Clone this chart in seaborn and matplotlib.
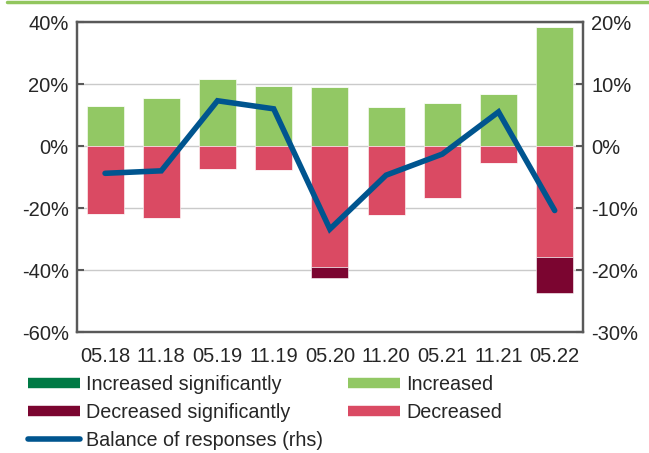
import numpy as np
import pandas as pd
import matplotlib
matplotlib.use("Agg")
import matplotlib.pyplot as plt
import seaborn as sns
from matplotlib.lines import Line2D

# survey rounds
periods = ["05.18", "11.18", "05.19", "11.19", "05.20", "11.20", "05.21", "11.21", "05.22"]
# shares of responses, percent (lhs)
inc_sig = [0, 0, 0, 0, 0, 0, 0, 0, 0]
inc = [13.0, 15.4, 21.5, 19.3, 19.2, 12.5, 13.9, 16.8, 38.5]
dec = [-21.9, -23.3, -7.3, -7.8, -39.0, -22.2, -16.9, -5.6, -35.8]
dec_sig = [0, 0, 0, 0, -3.6, 0, 0, 0, -11.7]
# balance of responses, percent (rhs)
balance = [-4.4, -4.0, 7.3, 6.0, -13.4, -4.7, -1.3, 5.5, -10.4]

c_inc_sig = "#007A45"
c_inc = "#92C864"
c_dec_sig = "#7B0530"
c_dec = "#DA4A63"
c_line = "#00558F"
spine_c = "#595959"

sns.set_theme(style="white")
plt.rcParams["font.family"] = ["Liberation Sans", "DejaVu Sans"]
fs = 14.5
lfs = 14.2

df = pd.DataFrame({"period": periods, "inc_sig": inc_sig, "inc": inc,
                   "dec": dec, "dec_sig": dec_sig, "balance": balance})

fig = plt.figure(figsize=(6.49, 4.53), dpi=100)
ax = fig.add_axes([0.1186, 0.267, 0.898 - 0.1186, 0.9514 - 0.267])

bw = 0.66
ekw = dict(edgecolor="white", linewidth=0.4)
sns.barplot(data=df, x="period", y="inc", color=c_inc, width=bw, ax=ax, saturation=1, **ekw)
sns.barplot(data=df, x="period", y="inc_sig", bottom=df["inc"], color=c_inc_sig, width=bw, ax=ax, saturation=1, **ekw)
sns.barplot(data=df, x="period", y="dec", color=c_dec, width=bw, ax=ax, saturation=1, **ekw)
sns.barplot(data=df, x="period", y="dec_sig", bottom=df["dec"], color=c_dec_sig, width=bw, ax=ax, saturation=1, **ekw)

ax.set_xlim(-0.5, len(periods) - 0.5)
ax.set_ylim(-60, 40)
ax.set_yticks(np.arange(-60, 41, 20))
ax.set_yticklabels([f"{v}%" for v in range(-60, 41, 20)], fontsize=fs)
ax.set_xlabel("")
ax.set_ylabel("")
ax.tick_params(axis="x", length=0, labelsize=fs, pad=11)
ax.tick_params(axis="y", direction="in", length=5, width=1.5, color=spine_c, pad=6)
ax.yaxis.grid(True, color="#CACACA", linewidth=1)
ax.set_axisbelow(True)
for s in ax.spines.values():
    s.set_color(spine_c)
    s.set_linewidth(1.6)

ax2 = ax.twinx()
sns.lineplot(x=np.arange(len(periods)), y=df["balance"], color=c_line, linewidth=4,
             ax=ax2, solid_capstyle="round", solid_joinstyle="miter")
ax2.set_ylim(-30, 20)
ax2.set_yticks(np.arange(-30, 21, 10))
ax2.set_yticklabels([f"{v}%" for v in range(-30, 21, 10)], fontsize=fs)
ax2.set_ylabel("")
ax2.tick_params(axis="y", direction="in", length=5, width=1.5, color=spine_c, pad=6)
ax2.grid(False)
for s in ax2.spines.values():
    s.set_color(spine_c)
    s.set_linewidth(1.6)

# green rule across the top
fig.add_artist(Line2D([0.011, 1.0], [0.995, 0.995], transform=fig.transFigure,
                      color="#92C65E", linewidth=2.5))

handles = [
    Line2D([], [], color=c_inc_sig, linewidth=7.5, solid_capstyle="butt"),
    Line2D([], [], color=c_dec_sig, linewidth=7.5, solid_capstyle="butt"),
    Line2D([], [], color=c_line, linewidth=4, solid_capstyle="round"),
    Line2D([], [], color=c_inc, linewidth=7.5, solid_capstyle="butt"),
    Line2D([], [], color=c_dec, linewidth=7.5, solid_capstyle="butt"),
]
labels = ["Increased significantly", "Decreased significantly", "Balance of responses (rhs)",
          "Increased", "Decreased"]
fig.legend(handles, labels, loc="upper left", bbox_to_anchor=(0.043, 0.172), ncol=2,
           frameon=False, fontsize=lfs, handlelength=2.64, handletextpad=0.3,
           columnspacing=1.27, labelspacing=0.45, borderaxespad=0, borderpad=0)

fig.savefig("out.png", dpi=100)
